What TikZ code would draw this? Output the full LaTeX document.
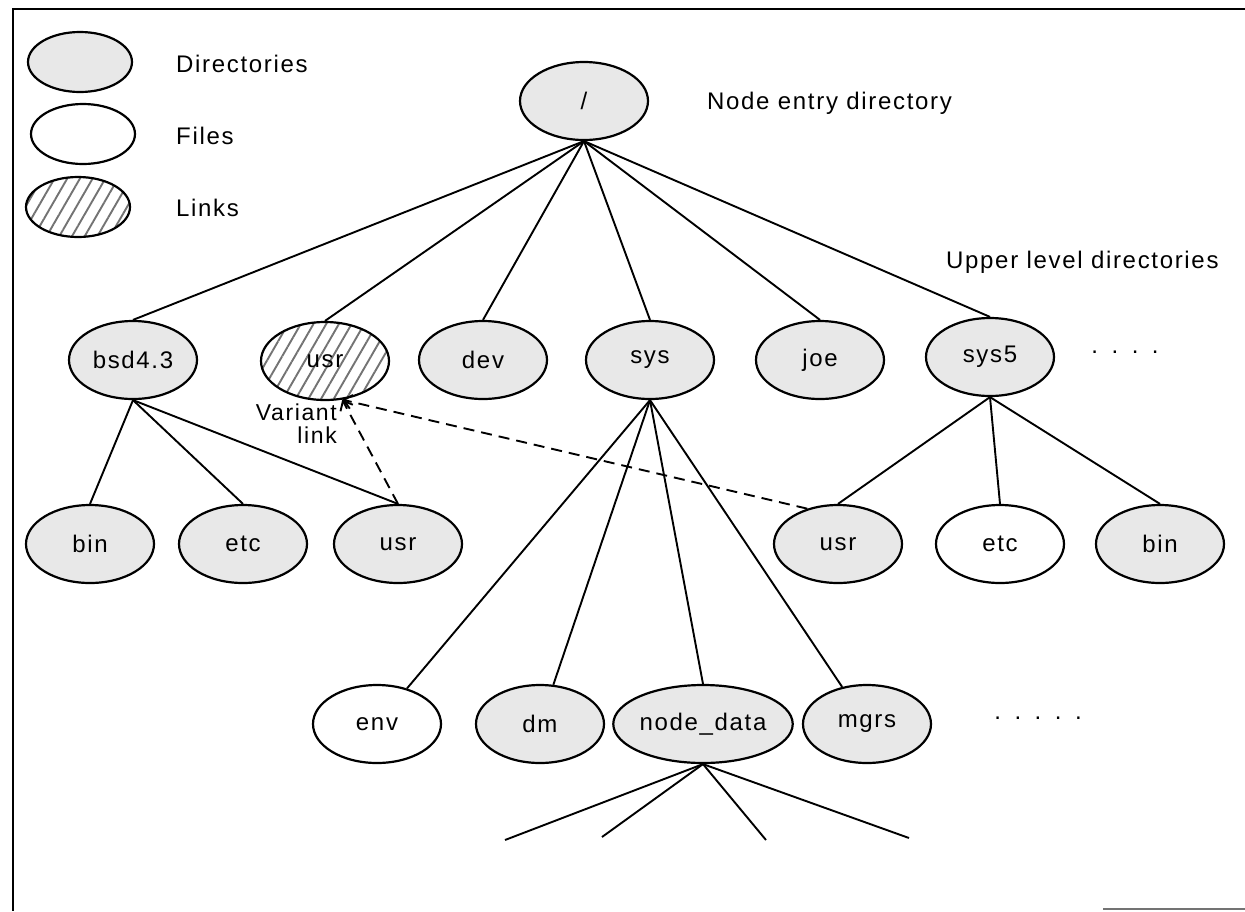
\documentclass[tikz,border=0pt]{standalone}
\usepackage{fontspec}
\setmainfont{Liberation Sans}[LetterSpace=7]
\usetikzlibrary{shapes.geometric,patterns.meta,arrows.meta}
\newcommand{\gapdot}{\hspace{13.5pt}.}
\begin{document}
\begin{tikzpicture}[x=1pt,y=-1pt,
  txt/.style={font=\fontsize{24}{24}\selectfont},
  el/.style={ellipse, draw, line width=2.2pt, minimum width=128pt, minimum height=78pt, inner sep=0pt, txt},
  dir/.style={el, fill=black!9},
  file/.style={el, fill=white},
  lnk/.style={el, pattern={Lines[angle=60,distance=11pt,line width=1.9pt]}, pattern color=black!55},
  small/.style={minimum width=104pt, minimum height=60pt},
  edge/.style={line width=1.9pt},
  vlink/.style={line width=1.9pt, dash pattern=on 11pt off 7pt},
  tip/.style={-{Straight Barb[length=8pt,width=14pt,line width=1.9pt]}},
  lbl/.style={txt, inner sep=0pt}]
\useasboundingbox (0,0) rectangle (1245,911);

% frame
\draw[line width=2.2pt] (1245,9) -- (13,9) -- (13,911);
\draw[line width=1.4pt, black!55] (1103,909) -- (1245,909);

% legend
\node[dir, small] (kdir) at (80,62) {};
\node[file, small] (kfile) at (83,134) {};
\node[lnk, small] (klink) at (78,207) {};
\node[lbl, anchor=west] (tdir) at (176,64) {Directories};
\node[lbl, anchor=west] (tfile) at (176,136) {Files};
\node[lbl, anchor=west] (tlink) at (176,208) {Links};

% tree
\node[dir] (root) at (584,101) {/};
\node[lbl, anchor=west] (troot) at (707,103) {Node entry directory};
\node[lbl, anchor=west] (tupper) at (946,262) {Upper level directories};

\node[dir] (bsd) at (133,360) {bsd4.3};
\node[lnk] (usrL) at (325,361) {usr};
\node[dir] (dev) at (483,360) {dev};
\node[dir] (sys) at (650,360) {sys};
\node[dir] (joe) at (820,360) {joe};
\node[dir] (sysv) at (990,357) {sys5};
\node[lbl] (more1) at (1125,352) {.\gapdot\gapdot\gapdot};

\node[dir] (bin1) at (90,544) {bin};
\node[dir] (etc1) at (243,544) {etc};
\node[dir] (usr1) at (398,544) {usr};
\node[dir] (usrR) at (838,544) {usr};
\node[file] (etcR) at (1000,544) {etc};
\node[dir] (binR) at (1160,544) {bin};

\node[file] (env) at (377,724) {env};
\node[dir] (dm) at (540,724) {dm};
\node[dir] (nd) at (703,724) {node\_data};
\node[dir] (mgrs) at (867,724) {mgrs};
\node[lbl] (more2) at (1038,718) {.\gapdot\gapdot\gapdot\gapdot};

\coordinate (t1) at (505,840);
\coordinate (t2) at (602,837);
\coordinate (t3) at (766,840);
\coordinate (t4) at (909,838);

\foreach \c in {bsd,usrL,dev,sys,joe,sysv}
  \draw[edge] (root.south) -- (\c.north);
\foreach \c in {bin1,etc1,usr1}
  \draw[edge] (bsd.south) -- (\c.north);
\foreach \c in {usrR,etcR,binR}
  \draw[edge] (sysv.south) -- (\c.north);
\draw[edge] (sys.south) -- (env);
\draw[edge] (sys.south) -- (dm);
\draw[edge] (sys.south) -- (nd.north);
\draw[edge] (sys.south) -- (mgrs);
\foreach \c in {t1,t2,t3,t4}
  \draw[edge] (nd.south) -- (\c);

% variant links
\draw[vlink, tip] (usr1.north) -- (usrL.294);
\draw[vlink, tip] (usrR.131) -- (usrL.294);
\node[lbl, align=right, anchor=north east, font=\fontsize{23}{23}\selectfont] (tvar) at (337,404) {Variant\\link};
\end{tikzpicture}
\end{document}
